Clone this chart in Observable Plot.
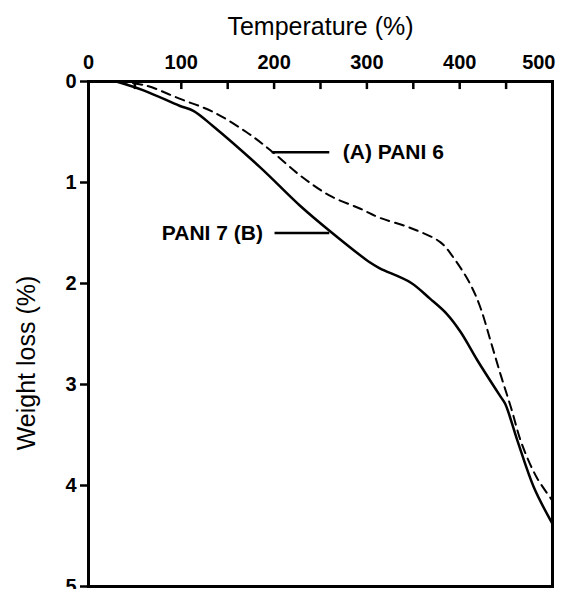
<!DOCTYPE html>
<html><head><meta charset="utf-8">
<script src="https://cdn.jsdelivr.net/npm/d3@7"></script>
<script src="https://cdn.jsdelivr.net/npm/@observablehq/plot@0.6"></script>
<style>body{margin:0;background:#fff}</style>
</head><body><div id="chart"></div>
<script>
const xTickLabels = [0, 100, 200, 300, 400, 500];
const xTicks = [0, 50, 100, 150, 200, 250, 300, 350, 400, 450, 500];
const yTicks = [0, 1, 2, 3, 4, 5];

const pani6T = [32, 62, 98, 134, 170, 196, 228, 260, 293, 314, 347, 379, 393, 411, 422, 433, 444, 455, 467, 483, 500];
const pani6W = [0, 0.04, 0.17, 0.30, 0.50, 0.68, 0.93, 1.13, 1.26, 1.35, 1.45, 1.59, 1.74, 2.0, 2.23, 2.56, 2.9, 3.22, 3.59, 3.92, 4.15];

const pani7T = [30, 60, 98, 113, 134, 185, 228, 260, 303, 314, 347, 368, 386, 401, 419, 444, 449, 462, 480, 500];
const pani7W = [0, 0.09, 0.24, 0.29, 0.44, 0.85, 1.23, 1.48, 1.79, 1.85, 1.99, 2.15, 2.30, 2.48, 2.76, 3.12, 3.19, 3.55, 4.02, 4.38];

const labelNames = ["(A) PANI 6", "PANI 7 (B)"];
const labelTextX = [274, 188];
const labelLineX1 = [198, 201];
const labelLineX2 = [260, 260];
const labelY = [0.70, 1.50];

const pani6 = pani6T.map((t, i) => ({t, w: pani6W[i]}));
const pani7 = pani7T.map((t, i) => ({t, w: pani7W[i]}));
const labels = labelNames.map((name, i) => ({name, tx: labelTextX[i], x1: labelLineX1[i], x2: labelLineX2[i], y: labelY[i], anchor: i === 0 ? "start" : "end"}));

const font = "Liberation Sans, Arial, sans-serif";

const plot = Plot.plot({
  width: 562, height: 589,
  marginLeft: 88, marginRight: 10, marginTop: 81, marginBottom: 3,
  style: {fontFamily: font, background: "white", overflow: "visible"},
  x: {domain: [0, 500], axis: null},
  y: {domain: [0, 5], reverse: true},
  marks: [
    Plot.axisY({ticks: yTicks, tickSize: 8, tickPadding: 4, fontSize: 20, fontWeight: "bold", strokeWidth: 2.5, label: null, tickFormat: d => String(d)}),
    Plot.ruleX(xTicks, {x: d => d, y1: 0, y2: 0.08, stroke: "black", strokeWidth: 2.5}),
    Plot.text(xTickLabels.filter(d => d < 500), {x: d => d, y: 0, dy: -13, text: d => String(d), fontSize: 20, fontWeight: "bold", lineAnchor: "bottom"}),
    Plot.text(xTickLabels.filter(d => d === 500), {x: d => d, y: 0, dy: -13, dx: 3, text: d => String(d), fontSize: 20, fontWeight: "bold", lineAnchor: "bottom", textAnchor: "end"}),
    Plot.frame({stroke: "black", strokeWidth: 3}),
    Plot.line(pani6, {x: "t", y: "w", stroke: "black", strokeWidth: 2, strokeDasharray: "9,6", curve: "catmull-rom"}),
    Plot.line(pani7, {x: "t", y: "w", stroke: "black", strokeWidth: 2.5, curve: "catmull-rom"}),
    Plot.ruleY(labels, {y: "y", x1: "x1", x2: "x2", stroke: "black", strokeWidth: 2.5}),
    Plot.text(labels.filter(d => d.anchor === "start"), {x: "tx", y: "y", text: "name", textAnchor: "start", fontSize: 21, fontWeight: "bold"}),
    Plot.text(labels.filter(d => d.anchor === "end"), {x: "tx", y: "y", text: "name", textAnchor: "end", fontSize: 21, fontWeight: "bold"}),
    Plot.text(["Temperature (%)"], {frameAnchor: "top", dy: -55, text: d => d, fontSize: 25, lineAnchor: "middle"}),
    Plot.text(["Weight loss (%)"], {frameAnchor: "left", dx: -62, dy: 29, rotate: -90, textAnchor: "middle", text: d => d, fontSize: 25})
  ]
});
document.getElementById("chart").appendChild(plot);
</script>
</body></html>
